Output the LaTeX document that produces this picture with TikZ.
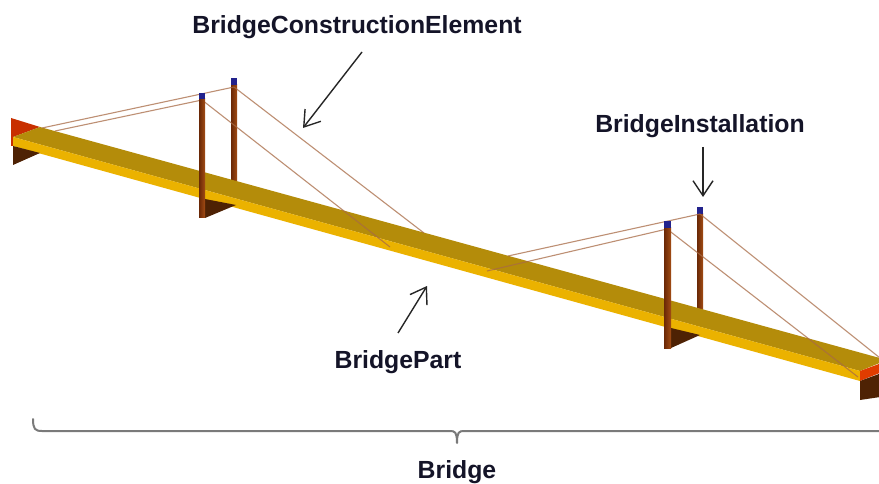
\documentclass[tikz,border=0pt]{standalone}
\usepackage{fontspec}
\setmainfont{Liberation Sans}
\usetikzlibrary{arrows.meta}
\definecolor{decktop}{HTML}{B48C0A}
\definecolor{deckfront}{HTML}{EBB200}
\definecolor{towerdark}{HTML}{6A2806}
\definecolor{towerlight}{HTML}{A24C14}
\definecolor{capcol}{HTML}{22228C}
\definecolor{cablecol}{HTML}{A86A45}
\definecolor{piercol}{HTML}{4E2204}
\definecolor{endred}{HTML}{E03C00}
\definecolor{leftred}{HTML}{C83000}
\definecolor{txtcol}{HTML}{141428}
\definecolor{bracecol}{HTML}{7A7A7A}
\tikzset{
  towerst/.style={left color=towerdark, right color=towerlight},
  capst/.style={fill=capcol},
  cablest/.style={draw=cablecol, line width=1.1pt, opacity=0.75},
  lbl/.style={font=\fontsize{24.8}{30}\selectfont\bfseries, text=txtcol, anchor=base, inner sep=0pt},
  callout/.style={draw=black!85, line width=1.4pt, -{Straight Barb[length=15pt,width=20pt,line width=1.4pt]}},
  bracest/.style={draw=bracecol, line width=2pt}
}
\begin{document}
\begin{tikzpicture}[x=1pt,y=-1pt]
\clip (0,0) rectangle (879,484);
\fill[white] (0,0) rectangle (879,484);
% back towers
\shade[towerst] (231,85) rectangle (237,186);
\fill[capst] (231,78) rectangle (237,85);
\shade[towerst] (697,214) rectangle (703,315);
\fill[capst] (697,207) rectangle (703,214);
% left red end
\fill[leftred] (11,118) -- (40,127) -- (13,137) -- (13,146) -- (11,146) -- cycle;
% deck
\fill[decktop] (40,127) -- (887,360) -- (860,371) -- (13,137) -- cycle;
\fill[deckfront] (13,137) -- (860,371) -- (860,381) -- (13,146) -- cycle;
\fill[endred] (860,371) -- (887,361) -- (887,370) -- (860,381) -- cycle;
% abutments
\fill[piercol] (13,146) -- (40,153) -- (13,165) -- cycle;
\fill[piercol] (860,381) -- (887,371) -- (887,396) -- (860,400) -- cycle;
% cable anchor points
\coordinate (t1) at (202,100);
\coordinate (t2) at (234,87);
\coordinate (t3) at (667,229);
\coordinate (t4) at (700,214);
\coordinate (aL1) at (42,128);
\coordinate (aL2) at (55,131);
\coordinate (aL3) at (390,247);
\coordinate (aL4) at (424,233);
\coordinate (aR1) at (508,256);
\coordinate (aR2) at (487,271);
\coordinate (aR3) at (880,358);
\coordinate (aR4) at (858,377);
% cables
\draw[cablest] (aL1) -- (t2);
\draw[cablest] (aL2) -- (t1);
\draw[cablest] (t1) -- (aL3);
\draw[cablest] (t2) -- (aL4);
\draw[cablest] (aR1) -- (t4);
\draw[cablest] (aR2) -- (t3);
\draw[cablest] (t4) -- (aR3);
\draw[cablest] (t3) -- (aR4);
% front towers and piers
\fill[piercol] (205,199) -- (236,205) -- (205,218) -- cycle;
\shade[towerst] (199,99) rectangle (205,218);
\fill[capst] (199,93) rectangle (205,99);
\fill[piercol] (671,328) -- (700,335) -- (671,348) -- cycle;
\shade[towerst] (664,228) rectangle (671,348);
\fill[capst] (664,221) rectangle (671,228);
% labels
\node[lbl] (bce) at (357,34) {BridgeConstructionElement};
\node[lbl] (bi) at (700,133) {BridgeInstallation};
\node[lbl] (bp) at (398,368) {BridgePart};
\node[lbl] (br) at (457,478) {Bridge};
\coordinate (bceTail) at (362,52);
\coordinate (bceTip) at (303,128);
\coordinate (biTail) at (703,147);
\coordinate (biTip) at (703,197);
\coordinate (bpTail) at (398,333);
\coordinate (bpTip) at (427,286);
\draw[callout] (bceTail) -- (bceTip);
\draw[callout] (biTail) -- (biTip);
\draw[callout] (bpTail) -- (bpTip);
% brace
\coordinate (brL) at (33,419);
\coordinate (brTick) at (457,443);
\coordinate (brR) at (880,431);
\draw[bracest, line cap=round] (brL) .. controls (33,429) and (35,431) .. (42,431) -- (450,431) .. controls (455,431) and (457,432) .. (brTick);
\draw[bracest] (brTick) .. controls (457,432) and (459,431) .. (464,431) -- (brR);
\end{tikzpicture}
\end{document}
